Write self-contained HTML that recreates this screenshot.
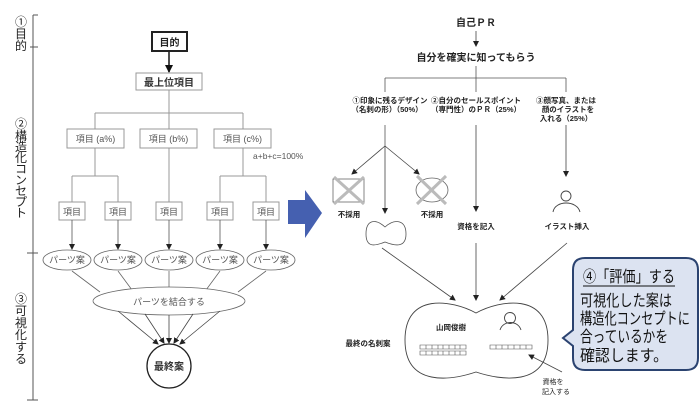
<!DOCTYPE html>
<html><head><meta charset="utf-8"><style>
body{margin:0;background:#fff}
svg{display:block}
text{font-family:"Liberation Sans","Noto Sans CJK JP",sans-serif}
</style></head><body>
<svg width="700" height="419" viewBox="0 0 700 419" xmlns="http://www.w3.org/2000/svg">
<defs>
<marker id="ah" markerWidth="6" markerHeight="6" refX="5" refY="3" orient="auto" markerUnits="userSpaceOnUse"><path d="M0,0 L6,3 L0,6 z" fill="#222"/></marker>
<marker id="ahb" markerWidth="8" markerHeight="8" refX="7" refY="4" orient="auto" markerUnits="userSpaceOnUse"><path d="M0,0 L8,4 L0,8 z" fill="#111"/></marker>
</defs>
<g stroke="#555" stroke-width="1">
<line x1="33" y1="15" x2="33" y2="400"/>
<line x1="33" y1="15" x2="38" y2="15"/>
<line x1="30" y1="47" x2="38" y2="47"/>
<line x1="27" y1="253" x2="38" y2="253"/>
<line x1="27" y1="400" x2="38" y2="400"/>
</g>
<g font-size="12" fill="#222" text-anchor="middle">
<text x="21" y="26">①</text><text x="21" y="38">目</text><text x="21" y="50">的</text>
<text x="21" y="128">②</text><text x="21" y="140">構</text><text x="21" y="151">造</text><text x="21" y="162">化</text><text x="21" y="173">コ</text><text x="21" y="184">ン</text><text x="21" y="195">セ</text><text x="21" y="206">プ</text><text x="21" y="217">ト</text>
<text x="21" y="303">③</text><text x="21" y="315">可</text><text x="21" y="327">視</text><text x="21" y="339">化</text><text x="21" y="351">す</text><text x="21" y="363">る</text>
</g>
<rect x="152" y="32" width="35" height="19" fill="#fff" stroke="#222" stroke-width="2"/>
<text x="169.5" y="46" font-size="10" font-weight="bold" text-anchor="middle" fill="#222">目的</text>
<line x1="169" y1="51" x2="169" y2="72" stroke="#222" stroke-width="1.6" marker-end="url(#ahb)"/>
<rect x="136" y="73" width="66" height="17" fill="#fff" stroke="#999"/>
<text x="169" y="86" font-size="10" font-weight="bold" text-anchor="middle" fill="#333">最上位項目</text>
<g stroke="#999" fill="none">
<line x1="169" y1="90" x2="169" y2="129"/>
<line x1="95" y1="113" x2="243" y2="113"/>
<line x1="95" y1="113" x2="95" y2="129"/>
<line x1="243" y1="113" x2="243" y2="129"/>
<rect x="67" y="129" width="57" height="19" fill="#fff"/>
<rect x="140" y="129" width="57" height="19" fill="#fff"/>
<rect x="214" y="129" width="57" height="19" fill="#fff"/>
<line x1="95" y1="148" x2="95" y2="176"/>
<line x1="72" y1="176" x2="118" y2="176"/>
<line x1="72" y1="176" x2="72" y2="202"/>
<line x1="118" y1="176" x2="118" y2="202"/>
<line x1="169" y1="148" x2="169" y2="202"/>
<line x1="243" y1="148" x2="243" y2="176"/>
<line x1="220" y1="176" x2="266" y2="176"/>
<line x1="220" y1="176" x2="220" y2="202"/>
<line x1="266" y1="176" x2="266" y2="202"/>
<rect x="59" y="202" width="26" height="18" fill="#fff"/>
<rect x="105" y="202" width="26" height="18" fill="#fff"/>
<rect x="156" y="202" width="26" height="18" fill="#fff"/>
<rect x="207" y="202" width="26" height="18" fill="#fff"/>
<rect x="253" y="202" width="26" height="18" fill="#fff"/>
</g>
<g font-size="9" fill="#555" text-anchor="middle">
<text x="95.5" y="142">項目 (a%)</text>
<text x="168.5" y="142">項目 (b%)</text>
<text x="242.5" y="142">項目 (c%)</text>
<text x="72" y="215">項目</text><text x="118" y="215">項目</text><text x="169" y="215">項目</text><text x="220" y="215">項目</text><text x="266" y="215">項目</text>
</g>
<text x="253" y="159" font-size="8.5" fill="#555">a+b+c=100%</text>
<g stroke="#555" stroke-width="0.8" marker-end="url(#ah)">
<line x1="72" y1="220" x2="72" y2="249"/><line x1="118" y1="220" x2="118" y2="249"/><line x1="169" y1="220" x2="169" y2="249"/><line x1="220" y1="220" x2="220" y2="249"/><line x1="266" y1="220" x2="266" y2="249"/>
</g>
<g stroke="#666" stroke-width="0.8" fill="#fff">
<ellipse cx="67" cy="260" rx="24" ry="10"/><ellipse cx="118" cy="260" rx="24" ry="10"/><ellipse cx="169" cy="260" rx="24" ry="10"/><ellipse cx="220" cy="260" rx="24" ry="10"/><ellipse cx="271" cy="260" rx="24" ry="10"/>
<line x1="72" y1="271" x2="100" y2="292" fill="none"/>
<line x1="118" y1="271" x2="132" y2="290" fill="none"/>
<line x1="169" y1="271" x2="169" y2="288" fill="none"/>
<line x1="220" y1="271" x2="206" y2="290" fill="none"/>
<line x1="266" y1="271" x2="238" y2="292" fill="none"/>
<ellipse cx="169" cy="301" rx="76" ry="14"/>
</g>
<g font-size="9" fill="#555" text-anchor="middle">
<text x="67" y="263">パーツ案</text><text x="118" y="263">パーツ案</text><text x="169" y="263">パーツ案</text><text x="220" y="263">パーツ案</text><text x="271" y="263">パーツ案</text>
<text x="169" y="305">パーツを結合する</text>
</g>
<g stroke="#444" stroke-width="0.8" marker-end="url(#ah)">
<line x1="118" y1="311" x2="158" y2="344"/><line x1="145" y1="314" x2="164" y2="343"/><line x1="169" y1="315" x2="169" y2="343"/><line x1="193" y1="314" x2="174" y2="343"/><line x1="220" y1="311" x2="180" y2="344"/>
</g>
<circle cx="169" cy="366" r="22" fill="#fff" stroke="#222" stroke-width="1.3"/>
<text x="169" y="370" font-size="10" font-weight="bold" fill="#333" text-anchor="middle">最終案</text>
<polygon points="288,200 305,200 305,190 322,213 305,238 305,224 288,224" fill="#4560b0"/>
<text x="476" y="26" font-size="10" font-weight="bold" fill="#222" text-anchor="middle">自己ＰＲ</text>
<line x1="476" y1="31" x2="476" y2="46" stroke="#444" stroke-width="0.8" marker-end="url(#ah)"/>
<text x="476" y="61" font-size="10" font-weight="bold" fill="#222" text-anchor="middle">自分を確実に知ってもらう</text>
<g stroke="#555" stroke-width="0.8" fill="none">
<line x1="476" y1="66" x2="476" y2="92"/>
<line x1="385" y1="78" x2="566" y2="78"/>
<line x1="385" y1="78" x2="385" y2="92"/>
<line x1="566" y1="78" x2="566" y2="92"/>
<line x1="385" y1="125" x2="385" y2="146"/>
</g>
<g font-size="7.5" fill="#222" text-anchor="middle" font-weight="bold">
<text x="390" y="103">①印象に残るデザイン</text><text x="387" y="112">（名刺の形）（50%）</text>
<text x="476" y="103">②自分のセールスポイント</text><text x="476" y="112">（専門性）のＰＲ（25%）</text>
<text x="566" y="103">③顔写真、または</text><text x="568" y="112">顔のイラストを</text><text x="566" y="121">入れる（25%）</text>
</g>
<g stroke="#444" stroke-width="0.8" marker-end="url(#ah)" fill="none">
<line x1="385" y1="146" x2="352" y2="174"/>
<line x1="385" y1="146" x2="419" y2="174"/>
<line x1="385" y1="146" x2="385" y2="213"/>
<line x1="476" y1="125" x2="476" y2="211"/>
<line x1="566" y1="125" x2="566" y2="176"/>
<line x1="382" y1="248" x2="455" y2="300"/>
<line x1="476" y1="243" x2="476" y2="300"/>
<line x1="567" y1="243" x2="500" y2="300"/>
<line x1="562" y1="372" x2="529" y2="355"/>
</g>
<rect x="333" y="179" width="31" height="23" fill="none" stroke="#666" stroke-width="0.8"/>
<ellipse cx="432" cy="190" rx="16" ry="12" fill="none" stroke="#666" stroke-width="0.8"/>
<g stroke="#bbb" stroke-width="3">
<line x1="334" y1="177" x2="364" y2="204"/><line x1="364" y1="177" x2="334" y2="204"/>
<line x1="417" y1="176" x2="446" y2="204"/><line x1="446" y1="176" x2="417" y2="204"/>
</g>
<g font-size="7.5" font-weight="bold" fill="#222" text-anchor="middle">
<text x="349" y="217">不採用</text><text x="432" y="217">不採用</text>
<text x="476" y="229">資格を記入</text><text x="567" y="229">イラスト挿入</text>
<text x="368" y="346">最終の名刺案</text>
<text x="451" y="330">山岡俊樹</text>
</g>
<path d="M385,227 C395,218 406,220 406,234 C406,248 395,246 385,242 C375,246 366,248 366,234 C366,220 375,218 385,227 Z" fill="none" stroke="#555" stroke-width="0.8"/>
<circle cx="566" cy="196" r="5" fill="none" stroke="#444" stroke-width="0.9"/>
<path d="M553,212 C555,200 577,200 580,212" fill="none" stroke="#444" stroke-width="0.9"/>
<path d="M476,313 C500,300 548,292 548,340 C548,388 500,380 476,372 C452,380 405,388 405,340 C405,292 452,300 476,313 Z" fill="none" stroke="#444" stroke-width="0.9"/>
<circle cx="510" cy="318" r="5.5" fill="none" stroke="#444" stroke-width="0.9"/>
<path d="M500,330 C503,320 518,320 521,330" fill="none" stroke="#444" stroke-width="0.9"/>
<g fill="none" stroke="#555" stroke-width="0.6">
<path d="M420,345h46v4h-46zM420,351h46v4h-46zM490,345h42v4h-42z"/>
<path d="M426,345v4M432,345v4M438,345v4M443,345v4M449,345v4M455,345v4M460,345v4M426,351v4M432,351v4M438,351v4M443,351v4M449,351v4M455,351v4M460,351v4M496,345v4M502,345v4M508,345v4M514,345v4M520,345v4M526,345v4"/>
</g>
<g font-size="7" fill="#222" text-anchor="middle"><text x="553" y="384">資格を</text><text x="556" y="394">記入する</text></g>
<path d="M585,258 H686 Q698,258 698,270 V358 Q698,370 686,370 H585 Q573,370 573,358 V346 L563,338 L573,330 V270 Q573,258 585,258 Z" fill="#dce3f1" stroke="#2b4370" stroke-width="2"/>
<text x="583" y="282" font-size="16" fill="#111" textLength="92" lengthAdjust="spacingAndGlyphs">④「評価」する</text>
<line x1="583" y1="286" x2="675" y2="286" stroke="#111" stroke-width="1"/>
<g font-size="16" fill="#111">
<text x="580" y="306" textLength="92" lengthAdjust="spacingAndGlyphs">可視化した案は</text>
<text x="580" y="324" textLength="110" lengthAdjust="spacingAndGlyphs">構造化コンセプトに</text>
<text x="580" y="342" textLength="88" lengthAdjust="spacingAndGlyphs">合っているかを</text>
<text x="580" y="361" textLength="88" lengthAdjust="spacingAndGlyphs">確認します。</text>
</g>
</svg>
</body></html>
